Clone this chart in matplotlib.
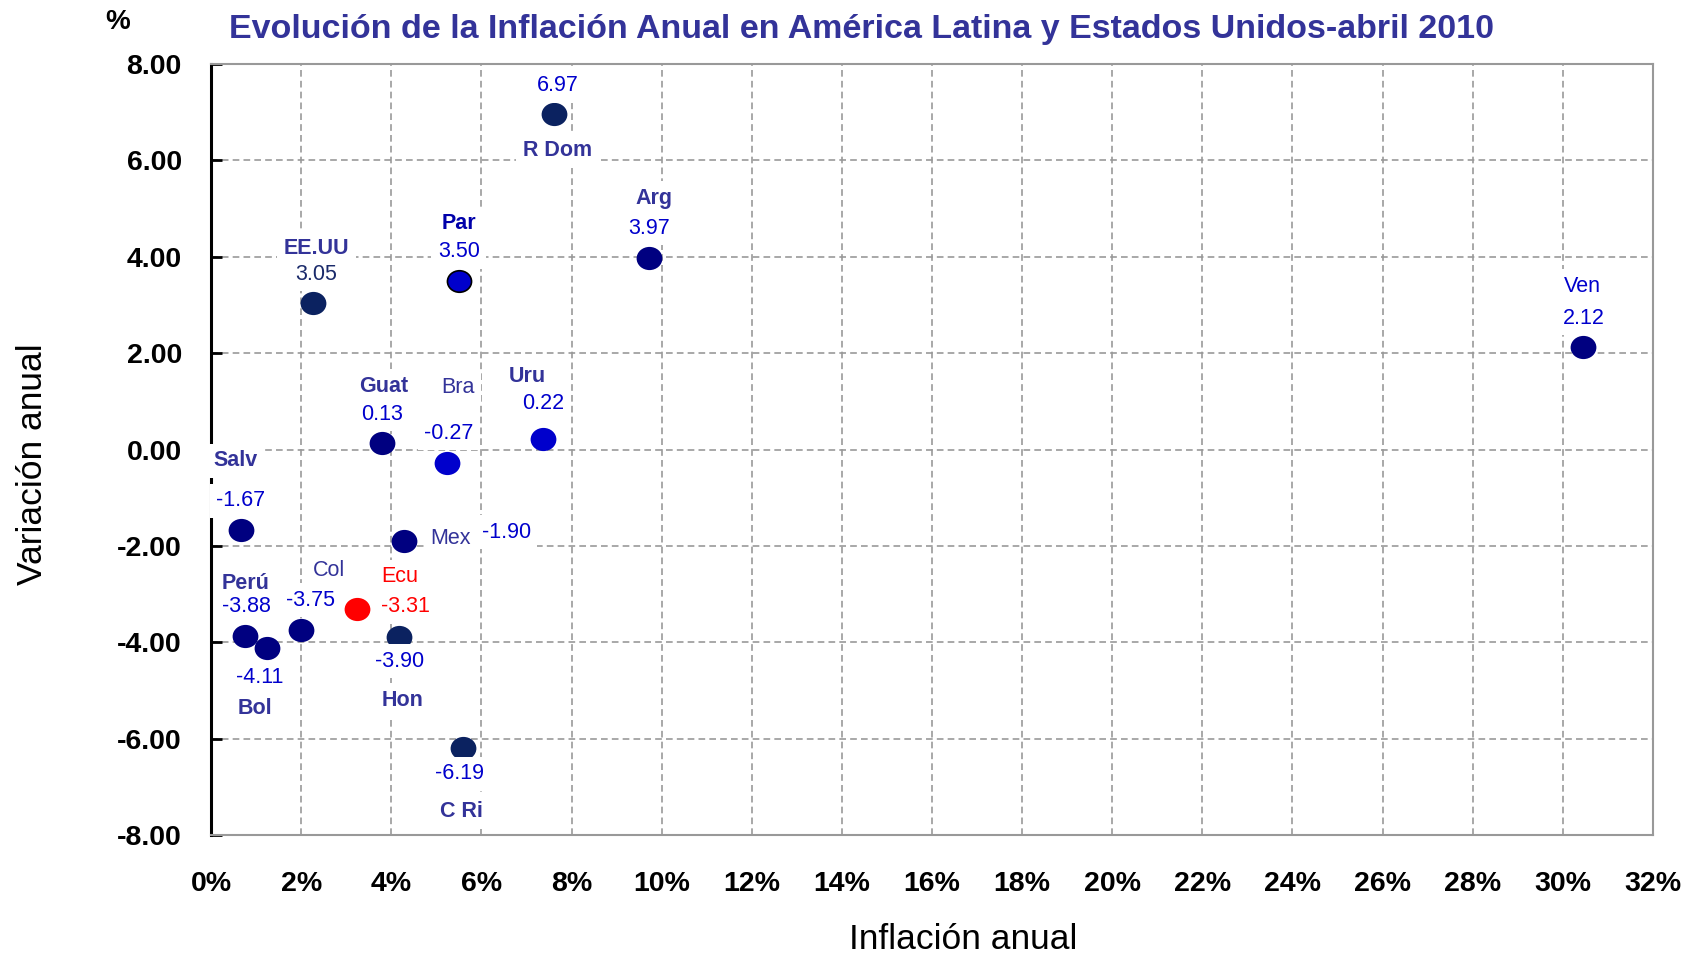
import matplotlib
matplotlib.use("Agg")
import matplotlib.pyplot as plt
from matplotlib.markers import MarkerStyle
from matplotlib.transforms import Affine2D
from matplotlib.ticker import FuncFormatter, MultipleLocator

# datos
paises = ["R Dom", "Arg", "Ven", "EE.UU", "Par", "Guat", "Bra", "Uru",
          "Salv", "Mex", "Perú", "Bol", "Col", "Ecu", "Hon", "C Ri"]
inflacion = [7.62, 9.73, 30.44, 2.27, 5.50, 3.79, 5.24, 7.37,
             0.66, 4.29, 0.76, 1.25, 2.00, 3.24, 4.18, 5.59]
variacion = [6.97, 3.97, 2.12, 3.05, 3.50, 0.13, -0.27, 0.22,
             -1.67, -1.90, -3.88, -4.11, -3.75, -3.31, -3.90, -6.19]

NAVY = "#000080"
DARK = "#0b2260"
BLUE = "#0000cc"
SLATE = "#333399"
colores = [DARK, NAVY, NAVY, DARK, BLUE, NAVY, BLUE, BLUE,
           NAVY, NAVY, NAVY, NAVY, NAVY, "#ff0000", DARK, DARK]

# estilo de cada etiqueta: (desplazamiento nombre, desplazamiento valor, negrita, color nombre, color valor)
etiquetas = {
    "R Dom": ((3, -37), (3, 28), True, SLATE, BLUE),
    "Arg": ((5, 60), (0, 30), True, SLATE, BLUE),
    "Ven": ((0, 61), (1, 29), False, BLUE, BLUE),
    "EE.UU": ((3, 54), (3, 28), True, SLATE, "#1a2a6a"),
    "Par": ((0, 57), (0, 29), True, "#0000aa", BLUE),
    "Guat": ((2, 57), (0, 29), True, SLATE, BLUE),
    "Bra": ((11, 75), (2, 29), False, SLATE, BLUE),
    "Uru": ((-16, 62), (0, 35), True, SLATE, BLUE),
    "Salv": ((-5, 69), (0, 29), True, SLATE, BLUE),
    "Mex": ((46, 3), (102, 9), False, SLATE, BLUE),
    "Perú": ((0, 53), (1, 30), True, SLATE, BLUE),
    "Bol": ((-12, -61), (-8, -30), True, SLATE, BLUE),
    "Col": ((28, 60), (9, 30), False, SLATE, BLUE),
    "Ecu": ((43, 32), (48, 2), False, "#ff0000", "#ff0000"),
    "Hon": ((3, -63), (0, -24), True, SLATE, BLUE),
    "C Ri": ((-1, -64), (-3, -26), True, SLATE, BLUE),
}

plt.rcParams["font.family"] = ["Liberation Sans", "DejaVu Sans"]

fig = plt.figure(figsize=(16.99, 9.57), dpi=100)
ax = fig.add_axes([0.1242, 0.1275, 0.8487, 0.8056])

punto = MarkerStyle("o", transform=Affine2D().scale(1.12, 1.0))

for i, p in enumerate(paises):
    edge = "black" if p == "Par" else colores[i]
    ax.scatter(inflacion[i], variacion[i], s=240, marker=punto, color=colores[i],
               edgecolors=edge, linewidths=1.2, zorder=5)
    pos_n, pos_v, negrita, c_n, c_v = etiquetas[p]
    caja = dict(boxstyle="square,pad=0.3", fc="white", ec="none")
    ax.annotate(p, (inflacion[i], variacion[i]), xytext=pos_n,
                textcoords="offset pixels", ha="center", va="center",
                fontsize=15.5, fontweight="bold" if negrita else "normal",
                color=c_n, bbox=caja, zorder=6, annotation_clip=False)
    ax.annotate("%.2f" % variacion[i], (inflacion[i], variacion[i]),
                xytext=pos_v, textcoords="offset pixels", ha="center",
                va="center", fontsize=15.5, color=c_v, bbox=caja, zorder=6,
                annotation_clip=False)

ax.set_xlim(0, 32)
ax.set_ylim(-8, 8)
ax.xaxis.set_major_locator(MultipleLocator(2))
ax.yaxis.set_major_locator(MultipleLocator(2))
ax.xaxis.set_major_formatter(FuncFormatter(lambda v, _: "%d%%" % round(v)))
ax.yaxis.set_major_formatter(FuncFormatter(lambda v, _: "%.2f" % v))
ax.grid(True, color="#999999", linestyle=(0, (4, 2.5)), linewidth=1.2)
ax.set_axisbelow(True)

for s in ["top", "right", "bottom"]:
    ax.spines[s].set_color("#999999")
    ax.spines[s].set_linewidth(1.5)
ax.spines["left"].set_color("black")
ax.spines["left"].set_linewidth(2.2)

ax.tick_params(axis="y", direction="in", length=8, width=2, pad=21)
ax.tick_params(axis="x", length=0, pad=26)
for lab in ax.get_xticklabels() + ax.get_yticklabels():
    lab.set_fontsize(20.5)
    lab.set_fontweight("bold")

fig.text(0.567, 0.018, "Inflación anual", ha="center", va="center", fontsize=25.5)
fig.text(0.019, 0.515, "Variación anual", ha="center", va="center",
         rotation=90, fontsize=25.5)

fig.text(0.507, 0.969, "Evolución de la Inflación Anual en América Latina y Estados Unidos-abril 2010",
         ha="center", va="center", fontsize=24.5, fontweight="bold", color=SLATE)
fig.text(0.069, 0.977, "%", ha="center", va="center", fontsize=20,
         fontweight="bold", color="black")

fig.savefig("out.png", dpi=100)
